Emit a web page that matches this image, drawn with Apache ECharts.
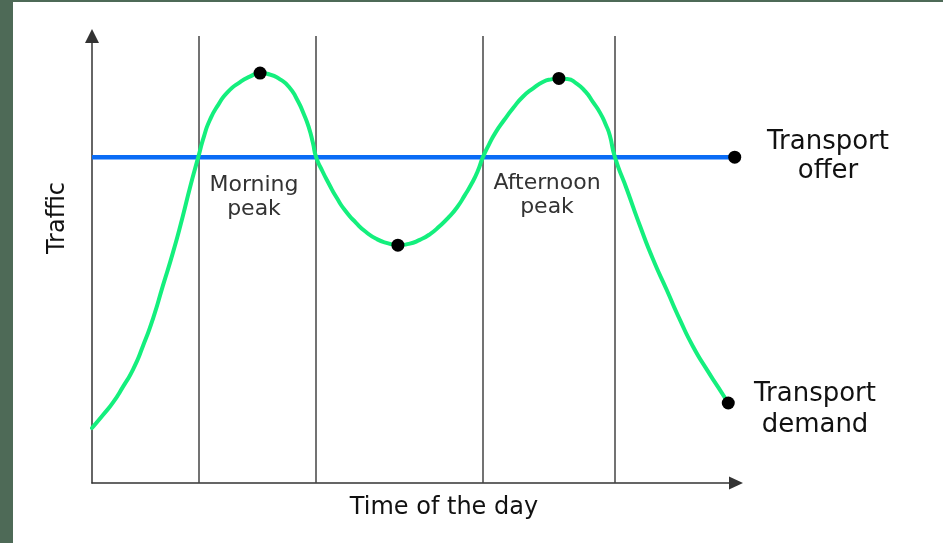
<!DOCTYPE html>
<html>
<head>
<meta charset="utf-8">
<script src="https://cdn.jsdelivr.net/npm/echarts@6/dist/echarts.min.js"></script>
<style>
  html, body { margin: 0; padding: 0; background: #fff; }
  #chart { width: 943px; height: 543px; }
</style>
</head>
<body>
<div id="chart"></div>
<script>
// time of day on a 0-100 scale, traffic on a 0-100 scale
const demandX = [
  0, 1.7, 3.3, 4.8, 6.4, 7.9, 9.5, 11.0, 12.6, 14.1, 15.2, 16.5, 17.4, 18.3, 19.6, 21.1, 23.0, 24.5, 26.1,
  27.6, 29.2, 30.6, 31.8, 32.9, 33.7, 34.3, 34.8,
  35.7, 36.8, 38.0, 39.4, 41.0, 42.5, 44.3, 46.0, 47.5, 49.2, 50.9, 52.5, 54.0, 55.4, 56.7, 57.9, 59.0, 59.9, 60.7,
  61.6, 62.7, 64.0, 65.4, 66.9, 68.5, 70.0, 71.3, 72.5, 73.8, 75.2, 76.6, 77.8, 78.9, 79.8, 80.4, 81.2,
  83.1, 85.1, 87.1, 89.3, 91.3, 93.3, 95.5, 97.2, 98.8];
const demandY = [
  12.3, 15.2, 18.1, 21.5, 25.5, 30.6, 36.9, 44.1, 51.7, 59.7, 66.0, 72.9, 77.6, 81.2, 84.6, 87.5, 89.7, 90.9, 91.7,
  91.4, 90.3, 88.6, 85.9, 82.5, 79.4, 76.1, 72.9,
  70.0, 66.9, 63.8, 60.8, 58.2, 56.2, 54.5, 53.6, 53.2, 53.5, 54.4, 55.7, 57.5, 59.5, 61.7, 64.4, 67.1, 69.8, 72.9,
  75.6, 78.5, 81.2, 83.9, 86.4, 88.3, 89.7, 90.3, 90.5, 90.4, 89.4, 87.6, 85.2, 82.8, 80.1, 77.8, 72.9,
  65.5, 57.5, 50.1, 43.0, 36.5, 30.6, 25.3, 21.5, 17.9];
const offerX = [0, 99.8];
const offerY = [72.9, 72.9];
// points of the demand curve that carry a dot: morning peak, midday low, afternoon peak, end
const demandDots = [18, 35, 54, 71];
// limits of the peak periods
const dividers = [16.5, 34.8, 60.7, 81.2];

const font = '"DejaVu Sans", Verdana, sans-serif';
const axisColor = '#333';

const myChart = echarts.init(document.getElementById('chart'));

const dots = demandDots.map((i) => [demandX[i], demandY[i]]);
dots.push([offerX[1], offerY[1]]);

const option = {
  backgroundColor: '#ffffff',
  animation: false,
  grid: { left: 92, right: 207, top: 36, bottom: 60 },
  xAxis: {
    type: 'value',
    min: 0,
    max: 100,
    axisLine: {
      onZero: false,
      symbol: ['none', 'triangle'],
      symbolSize: [13, 14],
      lineStyle: { color: axisColor, width: 1.5 },
    },
    axisTick: { show: false },
    axisLabel: { show: false },
    splitLine: { show: false },
  },
  yAxis: {
    type: 'value',
    min: 0,
    max: 100,
    axisLine: {
      show: true,
      onZero: false,
      symbol: ['none', 'triangle'],
      symbolSize: [14, 14],
      lineStyle: { color: axisColor, width: 1.5 },
    },
    axisTick: { show: false },
    axisLabel: { show: false },
    splitLine: { show: false },
  },
  graphic: [
    // dark frame on the left and top edge
    { type: 'rect', left: 0, top: 0, shape: { width: 13, height: 543 }, style: { fill: '#4e6a57' }, z: 100 },
    { type: 'rect', left: 0, top: 0, shape: { width: 943, height: 2 }, style: { fill: '#4e6a57' }, z: 100 },
    {
      type: 'text', x: 58, y: 218, rotation: Math.PI / 2,
      style: { text: 'Traffic', font: '24px ' + font, fill: '#111', textAlign: 'center', textVerticalAlign: 'middle' },
    },
    {
      type: 'text', x: 444, y: 508,
      style: { text: 'Time of the day', font: '24px ' + font, fill: '#111', textAlign: 'center', textVerticalAlign: 'middle' },
    },
    {
      type: 'text', x: 254, y: 197,
      style: { text: 'Morning\npeak', font: '22px ' + font, lineHeight: 24, fill: '#333', textAlign: 'center', textVerticalAlign: 'middle' },
    },
    {
      type: 'text', x: 547, y: 195,
      style: { text: 'Afternoon\npeak', font: '22px ' + font, lineHeight: 24, fill: '#333', textAlign: 'center', textVerticalAlign: 'middle' },
    },
    {
      type: 'text', x: 828, y: 157,
      style: { text: 'Transport\noffer', font: '26px ' + font, lineHeight: 29, fill: '#111', textAlign: 'center', textVerticalAlign: 'middle' },
    },
    {
      type: 'text', x: 815, y: 410,
      style: { text: 'Transport\ndemand', font: '26px ' + font, lineHeight: 31, fill: '#111', textAlign: 'center', textVerticalAlign: 'middle' },
    },
  ],
  series: [
    {
      name: 'Transport offer',
      type: 'line',
      data: offerX.map((x, i) => [x, offerY[i]]),
      symbol: 'none',
      lineStyle: { color: '#0a6cf6', width: 4.5 },
      markLine: {
        silent: true,
        symbol: 'none',
        label: { show: false },
        lineStyle: { color: '#444', width: 1.5, type: 'solid' },
        data: dividers.map((x) => ({ xAxis: x })),
        z: 1,
      },
      z: 2,
    },
    {
      name: 'Transport demand',
      type: 'line',
      data: demandX.map((x, i) => [x, demandY[i]]),
      smooth: 0.6,
      symbol: 'none',
      lineStyle: { color: '#14ef7d', width: 4, join: 'round', cap: 'round' },
      z: 3,
    },
    {
      name: 'dots',
      type: 'scatter',
      data: dots,
      symbolSize: 13,
      itemStyle: { color: '#000', opacity: 1 },
      z: 4,
    },
  ],
};

myChart.setOption(option);
</script>
</body>
</html>
